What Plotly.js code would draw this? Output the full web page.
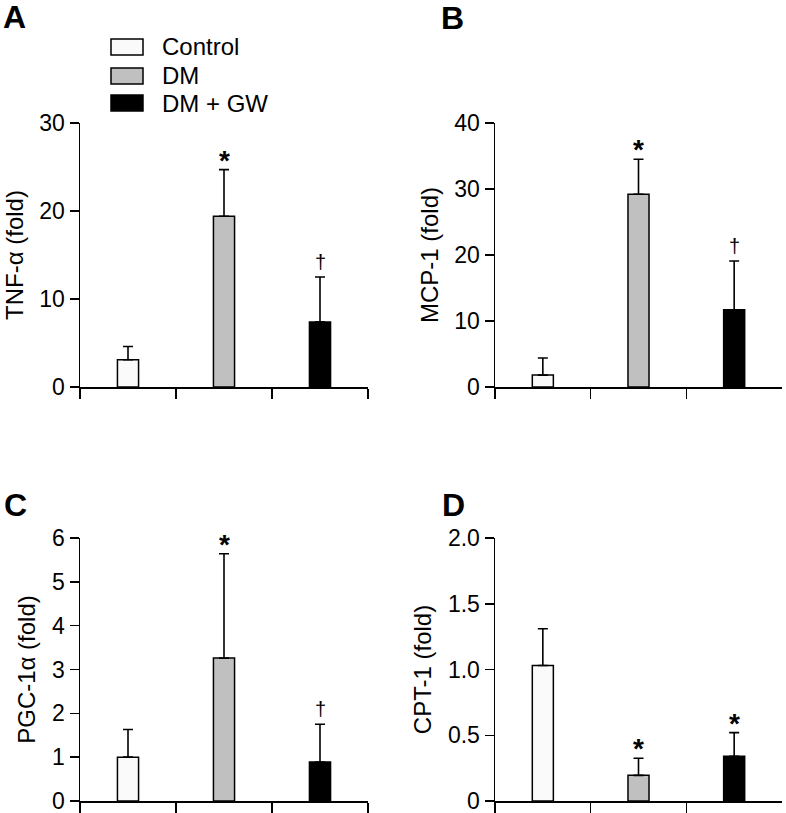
<!DOCTYPE html>
<html>
<head>
<meta charset="utf-8">
<script src="https://cdn.plot.ly/plotly-3.0.1.min.js"></script>
<style>html,body{margin:0;padding:0;background:#fff;}#plot{width:786px;height:813px;}</style>
</head>
<body>
<div id="plot"></div>
<script>
// ---- data ----
const groups = ["Control", "DM", "DM + GW"];

const tnfMean = [3.1, 19.4, 7.4];
const tnfErr  = [1.5, 5.3, 5.1];
const tnfSig  = ["", "*", "†"];

const mcpMean = [1.8, 29.2, 11.7];
const mcpErr  = [2.6, 5.3, 7.4];
const mcpSig  = ["", "*", "†"];

const pgcMean = [1.0, 3.26, 0.89];
const pgcErr  = [0.63, 2.38, 0.86];
const pgcSig  = ["", "*", "†"];

const cptMean = [1.03, 0.195, 0.34];
const cptErr  = [0.28, 0.13, 0.18];
const cptSig  = ["", "*", "*"];

const tnfTicks = [0, 10, 20, 30];
const mcpTicks = [0, 10, 20, 30, 40];
const pgcTicks = [0, 1, 2, 3, 4, 5, 6];
const cptTicks = [0, 0.5, 1.0, 1.5, 2.0];
const cptTickText = ["0", "0.5", "1.0", "1.5", "2.0"];

const panelLetters = ["A", "B", "C", "D"];
const yTitles = ["TNF-α (fold)", "MCP-1 (fold)", "PGC-1α (fold)", "CPT-1 (fold)"];

// ---- style ----
const W = 786, H = 813;
const FONT = "Liberation Sans, Arial, sans-serif";
const fills = ["#fafafa", "#c0c0c0", "#000000"];
const px = v => v / W;
const py = v => 1 - v / H;

const panels = [
  {mean: tnfMean, err: tnfErr, sig: tnfSig, ticks: tnfTicks, text: tnfTicks.map(String), range: [0, 30], xd: [80, 368], yd: [123, 387]},
  {mean: mcpMean, err: mcpErr, sig: mcpSig, ticks: mcpTicks, text: mcpTicks.map(String), range: [0, 40], xd: [495, 782], yd: [123, 387]},
  {mean: pgcMean, err: pgcErr, sig: pgcSig, ticks: pgcTicks, text: pgcTicks.map(String), range: [0, 6], xd: [80, 368], yd: [538, 801]},
  {mean: cptMean, err: cptErr, sig: cptSig, ticks: cptTicks, text: cptTickText, range: [0, 2], xd: [495, 782], yd: [538, 801]}
];

const traces = [];
const layout = {
  width: W, height: H,
  margin: {l: 0, r: 0, t: 0, b: 0},
  paper_bgcolor: "#ffffff",
  plot_bgcolor: "rgba(0,0,0,0)",
  showlegend: false,
  font: {family: FONT, color: "#000", size: 23},
  shapes: [],
  annotations: []
};

panels.forEach((p, i) => {
  const n = i === 0 ? "" : String(i + 1);
  traces.push({
    type: "bar",
    x: groups,
    y: p.mean,
    xaxis: "x" + n,
    yaxis: "y" + n,
    width: 0.22,
    marker: {color: fills, line: {color: "#000", width: 1.5}},
    error_y: {type: "data", symmetric: false, array: p.err, arrayminus: p.err.map(() => 0),
              color: "#000", thickness: 1.6, width: 5},
    hoverinfo: "skip"
  });
  layout["xaxis" + n] = {
    domain: [px(p.xd[0]), px(p.xd[1])],
    anchor: "y" + n,
    type: "category",
    range: [-0.5, 2.5],
    tickson: "boundaries",
    ticks: "outside", ticklen: 10, tickwidth: 1.5, tickcolor: "#000",
    showticklabels: false,
    showline: true, linecolor: "#000", linewidth: 1.5,
    showgrid: false, zeroline: false, fixedrange: true
  };
  layout["yaxis" + n] = {
    domain: [py(p.yd[1]), py(p.yd[0])],
    anchor: "x" + n,
    range: p.range,
    tickmode: "array", tickvals: p.ticks, ticktext: p.text,
    ticks: "outside", ticklen: 9, tickwidth: 1.5, tickcolor: "#000",
    tickfont: {family: FONT, size: 23, color: "#000"},
    ticklabeloverflow: "allow",
    showline: true, linecolor: "#000", linewidth: 1.5,
    showgrid: false, zeroline: false, fixedrange: true,
    title: {text: yTitles[i], font: {family: FONT, size: 24, color: "#000"}, standoff: 9}
  };
  p.sig.forEach((s, j) => {
    if (!s) return;
    const star = s === "*";
    layout.annotations.push({
      xref: "x" + n, yref: "y" + n,
      x: groups[j], y: p.mean[j] + p.err[j],
      text: s, showarrow: false,
      yanchor: "bottom",
      yshift: star ? -8 : 2,
      font: {family: FONT, size: star ? 28 : 20, color: "#000", weight: star ? "bold" : "normal"}
    });
  });
});

// panel letters
const letterPos = [[14, 17], [452, 18], [15, 505], [453, 505]];
panelLetters.forEach((L, i) => {
  layout.annotations.push({
    xref: "paper", yref: "paper",
    x: px(letterPos[i][0]), y: py(letterPos[i][1]),
    xanchor: "center", yanchor: "middle",
    text: "<b>" + L + "</b>", showarrow: false,
    font: {family: FONT, size: 32, color: "#000"}
  });
});

// legend (panel A)
const legRows = [47, 76, 103];
groups.forEach((g, i) => {
  const yc = legRows[i];
  layout.shapes.push({
    type: "rect", xref: "paper", yref: "paper",
    x0: px(111), x1: px(143), y0: py(yc - 8), y1: py(yc + 8),
    fillcolor: fills[i], line: {color: "#000", width: 1.5}
  });
  layout.annotations.push({
    xref: "paper", yref: "paper",
    x: px(160), y: py(yc),
    xanchor: "left", yanchor: "middle",
    text: g, showarrow: false,
    font: {family: FONT, size: 24, color: "#000"}
  });
});

Plotly.newPlot("plot", traces, layout, {staticPlot: true, displayModeBar: false});
</script>
</body>
</html>
